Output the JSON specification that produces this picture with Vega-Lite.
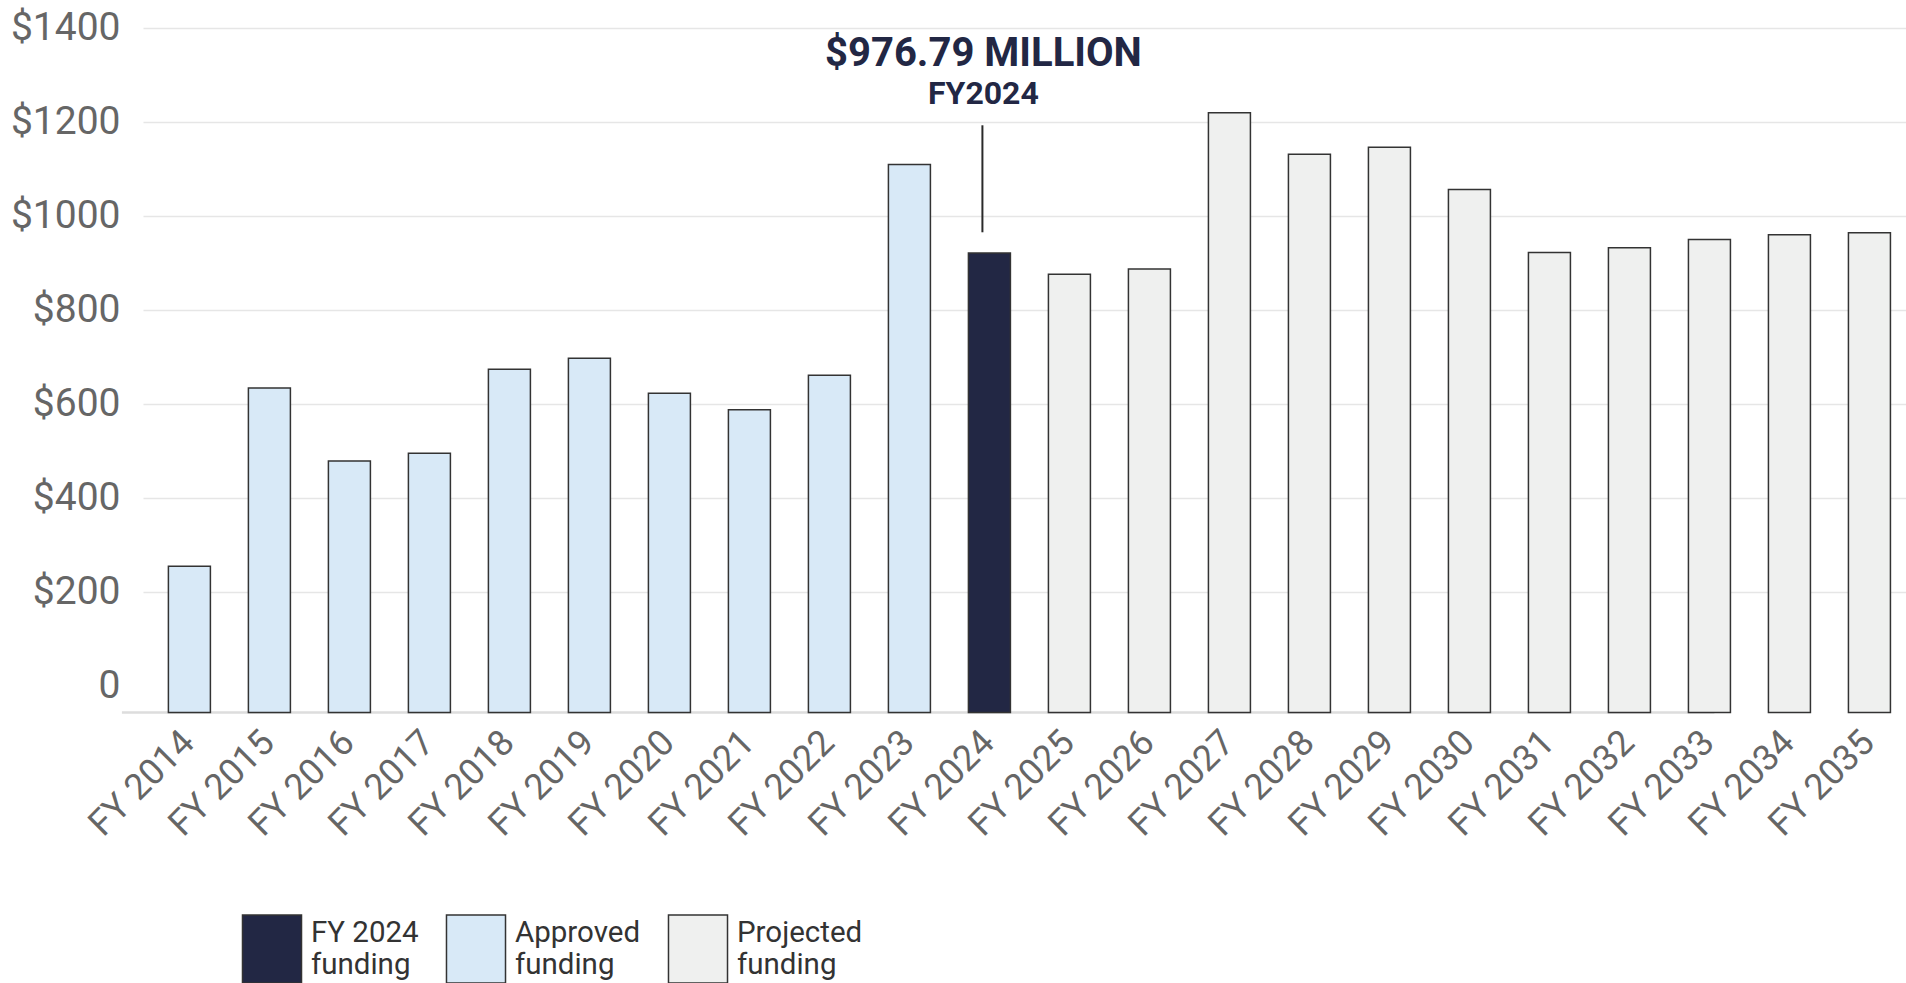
{
  "$schema": "https://vega.github.io/schema/vega-lite/v6.json",
  "autosize": {"type": "none"},
  "padding": {"left": 143, "top": 0, "right": 0, "bottom": 270.5},
  "width": 1763,
  "height": 712.5,
  "background": "white",
  "config": {
    "view": {"stroke": null},
    "font": "Roboto"
  },
  "data": {
    "values": [
      {"fy": "FY 2014", "value": 311, "category": "Approved funding"},
      {"fy": "FY 2015", "value": 690, "category": "Approved funding"},
      {"fy": "FY 2016", "value": 535, "category": "Approved funding"},
      {"fy": "FY 2017", "value": 551, "category": "Approved funding"},
      {"fy": "FY 2018", "value": 730, "category": "Approved funding"},
      {"fy": "FY 2019", "value": 753, "category": "Approved funding"},
      {"fy": "FY 2020", "value": 679, "category": "Approved funding"},
      {"fy": "FY 2021", "value": 644, "category": "Approved funding"},
      {"fy": "FY 2022", "value": 717, "category": "Approved funding"},
      {"fy": "FY 2023", "value": 1165, "category": "Approved funding"},
      {"fy": "FY 2024", "value": 976.79, "category": "FY 2024 funding"},
      {"fy": "FY 2025", "value": 932, "category": "Projected funding"},
      {"fy": "FY 2026", "value": 943, "category": "Projected funding"},
      {"fy": "FY 2027", "value": 1275, "category": "Projected funding"},
      {"fy": "FY 2028", "value": 1187, "category": "Projected funding"},
      {"fy": "FY 2029", "value": 1202, "category": "Projected funding"},
      {"fy": "FY 2030", "value": 1112, "category": "Projected funding"},
      {"fy": "FY 2031", "value": 978, "category": "Projected funding"},
      {"fy": "FY 2032", "value": 988, "category": "Projected funding"},
      {"fy": "FY 2033", "value": 1006, "category": "Projected funding"},
      {"fy": "FY 2034", "value": 1016, "category": "Projected funding"},
      {"fy": "FY 2035", "value": 1020, "category": "Projected funding"}
    ]
  },
  "encoding": {
    "x": {
      "field": "fy",
      "type": "nominal",
      "sort": null,
      "scale": {
        "domain": ["FY 2014", "FY 2015", "FY 2016", "FY 2017", "FY 2018", "FY 2019", "FY 2020", "FY 2021", "FY 2022", "FY 2023", "FY 2024", "FY 2025", "FY 2026", "FY 2027", "FY 2028", "FY 2029", "FY 2030", "FY 2031", "FY 2032", "FY 2033", "FY 2034", "FY 2035"],
        "paddingInner": 0.475, "paddingOuter": 0.256, "align": 0.62
      },
      "axis": {
        "title": null,
        "labelAngle": -45,
        "labelFontSize": 36,
        "labelFont": "Roboto",
        "labelColor": "#666666",
        "labelPadding": 12,
        "labelOffset": -13,
        "ticks": false,
        "domain": false,
        "grid": false
      }
    }
  },
  "layer": [
    {
      "data": {"values": [{}]},
      "mark": {"type": "rule", "stroke": "#dddddd", "strokeWidth": 2.5, "xOffset": -67.5, "x2Offset": 5},
      "encoding": {
        "x": {"datum": "FY 2014"},
        "x2": {"datum": "FY 2033"},
        "y": {"datum": 0}
      }
    },
    {
      "mark": {"type": "bar", "stroke": "#333333", "strokeWidth": 1.5},
      "encoding": {
        "y": {
          "field": "value",
          "type": "quantitative",
          "scale": {"domain": [0, 1515], "nice": false},
          "axis": {
            "title": null,
            "values": [56.5, 256.5, 456.5, 656.5, 856.5, 1056.5, 1256.5, 1456.5],
            "labelExpr": "datum.value < 100 ? '0' : '$' + format(datum.value - 56.5, 'd')",
            "labelFontSize": 39,
            "labelFont": "Roboto",
            "labelColor": "#666666",
            "labelPadding": 23,
            "ticks": false,
            "domain": false,
            "grid": true,
            "gridColor": "#e6e6e6",
            "gridWidth": 1.5,
            "gridOpacity": {"condition": {"test": "datum.value < 100", "value": 0}, "value": 1}
          }
        },
        "color": {
          "field": "category",
          "type": "nominal",
          "scale": {
            "domain": ["FY 2024 funding", "Approved funding", "Projected funding"],
            "range": ["#222744", "#d8e9f7", "#eff0ef"]
          },
          "legend": {
            "title": null,
            "orient": "none",
            "direction": "horizontal",
            "legendX": 94,
            "legendY": 914,
            "padding": 0,
            "symbolType": "M-0.868,-1H0.868V1H-0.868Z",
            "symbolSize": 4624,
            "symbolStrokeColor": "#333333",
            "symbolStrokeWidth": 1.5,
            "symbolOpacity": 1,
            "labelFontSize": 29.5,
            "labelFont": "Roboto",
            "labelColor": "#333333",
            "labelOffset": 4,
            "labelLimit": 400,
            "labelBaseline": "line-bottom",
            "columnPadding": 22,
            "labelExpr": "datum.label == 'FY 2024 funding' ? ['FY 2024', 'funding'] : datum.label == 'Approved funding' ? ['Approved', 'funding'] : ['Projected', 'funding']"
          }
        }
      }
    },
    {
      "data": {"values": [{}]},
      "mark": {"type": "rule", "stroke": "#2a2a2a", "strokeWidth": 2, "xOffset": -7},
      "encoding": {
        "x": {"datum": "FY 2024"},
        "y": {"datum": 1248.6},
        "y2": {"datum": 1021.1}
      }
    },
    {
      "data": {"values": [{}]},
      "mark": {"type": "text", "text": "$976.79 MILLION", "font": "Roboto", "fontWeight": "bold", "fontSize": 40, "color": "#222744", "align": "center", "baseline": "alphabetic", "dx": -6},
      "encoding": {
        "x": {"datum": "FY 2024"},
        "y": {"datum": 1374.6}
      }
    },
    {
      "data": {"values": [{}]},
      "mark": {"type": "text", "text": "FY2024", "font": "Roboto", "fontWeight": "bold", "fontSize": 32, "color": "#222744", "align": "center", "baseline": "alphabetic", "dx": -6},
      "encoding": {
        "x": {"datum": "FY 2024"},
        "y": {"datum": 1293.2}
      }
    }
  ]
}
